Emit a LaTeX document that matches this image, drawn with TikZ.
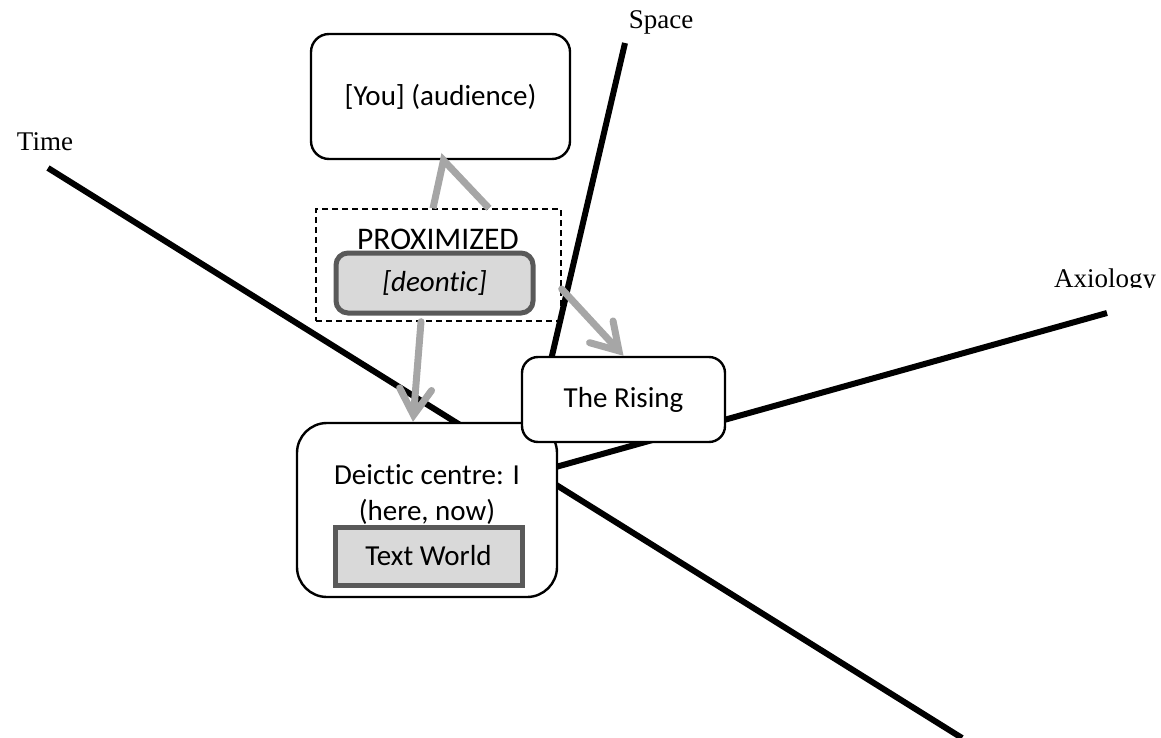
\documentclass[tikz,border=0pt]{standalone}
\usepackage{fontspec}
\setmainfont{Liberation Serif}
\newfontfamily\calibri[Ligatures=NoCommon]{Carlito}
\usetikzlibrary{arrows.meta}

\definecolor{arrowgray}{HTML}{A6A6A6}
\definecolor{boxgray}{HTML}{D9D9D9}
\definecolor{edgegray}{HTML}{595959}

\begin{document}
\begin{tikzpicture}[x=0.5pt, y=-0.5pt,
    axis/.style={line width=3pt},
    axislabel/.style={font=\fontsize{13.5}{16}\selectfont},
    world/.style={draw, fill=white, line width=1.2pt, rounded corners=9pt, inner sep=0pt,
        font=\calibri\fontsize{14.5}{18}\selectfont, align=center},
    grey box/.style={draw=edgegray, fill=boxgray, line width=2.5pt, inner sep=0pt,
        font=\calibri\fontsize{14.5}{18}\selectfont},
    push/.style={arrowgray, line width=3.5pt, line cap=round,
        -{Straight Barb[length=13pt, width=16pt, line cap=round]}}]
    \useasboundingbox (0,0) rectangle (1161,738);

    % the three axes
    \coordinate (time) at (48,168);
    \coordinate (time end) at (962,738);
    \coordinate (space) at (625,43);
    \coordinate (space end) at (537,420);
    \coordinate (axiology) at (1107,313);
    \coordinate (axiology end) at (520,477);
    \draw[axis] (time) -- (time end);
    \draw[axis] (space) -- (space end);
    \draw[axis] (axiology) -- (axiology end);

    \node[axislabel] (time label) at (45,142) {Time};
    \node[axislabel] (space label) at (661,22) {Space};
    \begin{scope}
        \clip (1000,250) rectangle (1161,287);
        \node[axislabel] (axiology label) at (1105,281) {Axiology};
    \end{scope}

    % worlds
    \node[world, minimum width=129.5pt, minimum height=62.5pt] (you) at (440.5,96.5) {[You] (audience)};
    \node[draw, dashed, dash pattern=on 3pt off 2pt, line width=0.7pt,
        minimum width=122.5pt, minimum height=56pt] (prox) at (438.5,265) {};
    \node[font=\calibri\fontsize{15.75}{18}\selectfont] (prox label) at (438,239) {PROXIMIZED};
    \node[grey box, rounded corners=6pt, minimum width=98.5pt, minimum height=30pt] (deontic) at (434.5,283)
        {\itshape [deontic]};
    \node[world, rounded corners=15pt, minimum width=130pt, minimum height=87pt] (deictic) at (427,510) {};
    \node[font=\calibri\fontsize{14.5}{18}\selectfont, align=center] (centre) at (427,495)
        {Deictic centre: I\\(here, now)};
    \node[grey box, minimum width=93.5pt, minimum height=29pt] (text world) at (428.5,556) {Text World};
    \node[world, rounded corners=8pt, minimum width=101.5pt, minimum height=42.5pt] (rising) at (623.5,399.5) {The Rising};

    % arrows
    \coordinate (up tip) at ([xshift=1.5pt]you.south);
    \draw[arrowgray, line width=3.5pt] ([xshift=-2.75pt]prox.north) -- (up tip) -- ([xshift=25.25pt]prox.north);
    \draw[push] ([xshift=-8.75pt]prox.south) -- ([xshift=-7pt]deictic.north);
    \draw[push] ([yshift=-12pt]prox.east) -- (rising.north);
\end{tikzpicture}
\end{document}
